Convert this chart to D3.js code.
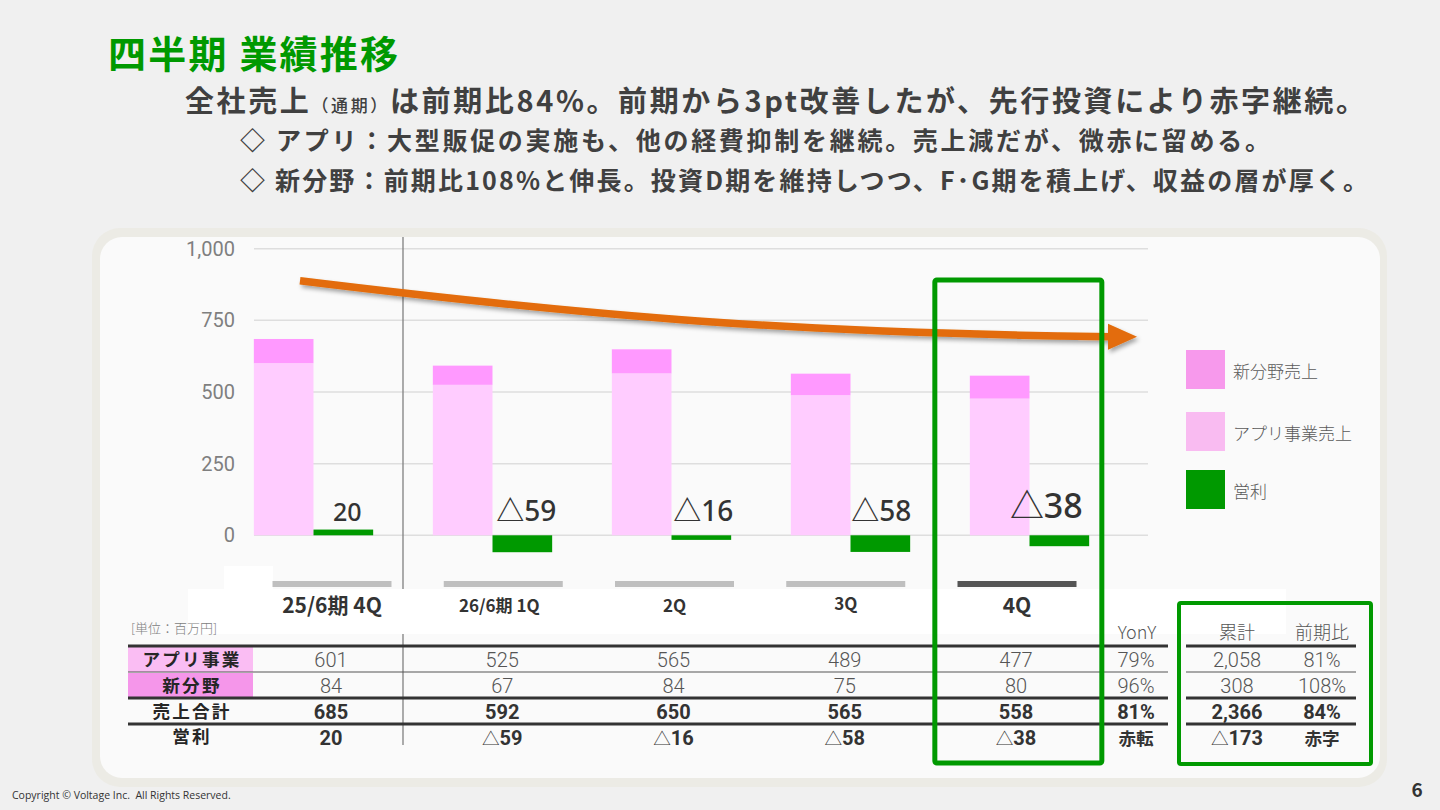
<!DOCTYPE html>
<html><head><meta charset="utf-8">
<script src="https://cdn.jsdelivr.net/npm/d3@7"></script>
<style>
body{margin:0;background:#F0F0F0;}
svg{display:block;font-family:"Noto Sans CJK JP","Noto Sans",sans-serif;}
</style>
</head><body>
<svg id="c" width="1440" height="810"></svg>
<script>
// ---- data ----
const categories = ["25/6期 4Q", "26/6期 1Q", "2Q", "3Q", "4Q"];
const appSales = [601, 525, 565, 489, 477];
const newSales = [84, 67, 84, 75, 80];
const totalSales = [685, 592, 650, 565, 558];
const opProfit = [20, -59, -16, -58, -38];
const yTicks = [0, 250, 500, 750, 1000];
const rowLabels = ["アプリ事業", "新分野", "売上合計", "営利"];
const yonyHeader = "YonY";
const yonyValues = ["79%", "96%", "81%", "赤転"];
const cumHeader = ["累計", "前期比"];
const cumValues = ["2,058", "308", "2,366", "△173"];
const cumRatios = ["81%", "108%", "84%", "赤字"];
const legendLabels = ["新分野売上", "アプリ事業売上", "営利"];
const unitLabel = "[単位：百万円]";

const fmtOp = v => v < 0 ? "△" + Math.abs(v) : String(v);

const svg = d3.select("#c");
const defs = svg.append("defs");
const f = defs.append("filter").attr("id", "shadow").attr("x", "-10%").attr("y", "-50%").attr("width", "120%").attr("height", "200%");
f.append("feDropShadow").attr("dx", 2).attr("dy", 3).attr("stdDeviation", 2).attr("flood-color", "#000").attr("flood-opacity", 0.35);

// ---- header text ----
svg.append("text").attr("x", 108).attr("y", 68).attr("fill", "#009900")
  .attr("font-size", 38).attr("font-weight", 700)
  .attr("textLength", 290).attr("lengthAdjust", "spacing").text("四半期 業績推移");

const l2 = svg.append("text").attr("x", 185).attr("y", 112).attr("fill", "#404040")
  .attr("font-size", 29).attr("font-weight", 700)
  .attr("textLength", 1180).attr("lengthAdjust", "spacing");
l2.append("tspan").text("全社売上");
l2.append("tspan").attr("font-size", 17).attr("font-weight", 500).text("（通期）");
l2.append("tspan").text("は前期比84%。前期から3pt改善したが、先行投資により赤字継続。");

svg.append("text").attr("x", 240).attr("y", 150).attr("fill", "#404040")
  .attr("font-size", 25).attr("font-weight", 700)
  .attr("textLength", 1030).attr("lengthAdjust", "spacing")
  .text("◇ アプリ：大型販促の実施も、他の経費抑制を継続。売上減だが、微赤に留める。");
svg.append("text").attr("x", 240).attr("y", 190).attr("fill", "#404040")
  .attr("font-size", 25).attr("font-weight", 700)
  .attr("textLength", 1128).attr("lengthAdjust", "spacing")
  .text("◇ 新分野：前期比108%と伸長。投資D期を維持しつつ、F･G期を積上げ、収益の層が厚く。");

// ---- panel ----
svg.append("rect").attr("x", 92).attr("y", 228).attr("width", 1295).attr("height", 559)
  .attr("rx", 28).attr("fill", "#ECEBE5");
svg.append("rect").attr("x", 100).attr("y", 237).attr("width", 1280).attr("height", 541)
  .attr("rx", 22).attr("fill", "#FAFAFA");

// ---- scales ----
const y = d3.scaleLinear().domain([0, 1000]).range([535.3, 248.7]);
const x = d3.scaleBand().domain(categories).range([224, 1119]).paddingInner(1 / 3).paddingOuter(1 / 6);
const xs = d3.scaleBand().domain(["sales", "op"]).range([0, x.bandwidth()]);
const tx = d3.scalePoint().domain(categories).range([332, 1017]);

// grid + y axis
const yAxis = d3.axisLeft(y).tickValues(yTicks).tickFormat(d3.format(",")).tickSize(0).tickPadding(0);
const ga = svg.append("g").attr("transform", "translate(235,0)").call(yAxis);
ga.select(".domain").remove();
ga.selectAll("text").attr("font-family", "Roboto, 'Liberation Sans', sans-serif").attr("font-size", 20).attr("fill", "#7F7F7F");
svg.append("g").selectAll("line").data(yTicks).join("line")
  .attr("x1", 254).attr("x2", 1148).attr("y1", d => y(d)).attr("y2", d => y(d))
  .attr("stroke", "#DEDEDE").attr("stroke-width", 1.5);

// bars
const gb = svg.append("g");
gb.selectAll("rect.app").data(categories).join("rect").attr("class", "app")
  .attr("x", d => x(d) + xs("sales")).attr("width", xs.bandwidth())
  .attr("y", (d, i) => y(appSales[i])).attr("height", (d, i) => y(0) - y(appSales[i]))
  .attr("fill", "#FFCCFF");
gb.selectAll("rect.new").data(categories).join("rect").attr("class", "new")
  .attr("x", d => x(d) + xs("sales")).attr("width", xs.bandwidth())
  .attr("y", (d, i) => y(appSales[i] + newSales[i])).attr("height", (d, i) => y(appSales[i]) - y(appSales[i] + newSales[i]))
  .attr("fill", "#FF99FF");
gb.selectAll("rect.op").data(categories).join("rect").attr("class", "op")
  .attr("x", d => x(d) + xs("op")).attr("width", xs.bandwidth())
  .attr("y", (d, i) => y(Math.max(0, opProfit[i]))).attr("height", (d, i) => Math.abs(y(0) - y(opProfit[i])))
  .attr("fill", "#009900");

// op labels
const labSize = [25, 28, 28, 28, 34];
const labDx = [4, 4, 2, 1, -13];
gb.selectAll("text.oplab").data(categories).join("text").attr("class", "oplab")
  .attr("x", (d, i) => x(d) + xs("op") + xs.bandwidth() / 2 + labDx[i])
  .attr("y", (d, i) => y(0) - (i === 4 ? 17 : 14))
  .attr("text-anchor", "middle").attr("fill", "#333333")
  .attr("font-family", "'Noto Sans','Noto Sans CJK JP',sans-serif")
  .attr("font-size", (d, i) => labSize[i]).attr("font-weight", 500)
  .text((d, i) => fmtOp(opProfit[i]));

// separator line
const sepX = x(categories[0]) + x.bandwidth() + (x.step() - x.bandwidth()) / 2;
svg.append("line").attr("x1", sepX).attr("x2", sepX).attr("y1", 237).attr("y2", 745)
  .attr("stroke", "#808080").attr("stroke-width", 1.3);

// trend arrow
const ap = d3.path();
ap.moveTo(300, y(888));
ap.bezierCurveTo(600, y(760), 800, y(705), 1112, y(693));
const ga2 = svg.append("g").attr("filter", "url(#shadow)");
ga2.append("path").attr("d", ap.toString()).attr("fill", "none").attr("stroke", "#E36C09").attr("stroke-width", 7.5);
ga2.append("path").attr("d", `M1108,${y(693) - 13}L1137,${y(693)}L1108,${y(693) + 13}Z`).attr("fill", "#E36C09");

// header white block
svg.append("rect").attr("x", 224).attr("y", 566).attr("width", 49).attr("height", 24).attr("fill", "#FFFFFF");
svg.append("rect").attr("x", 188).attr("y", 589).attr("width", 1098).attr("height", 45).attr("fill", "#FFFFFF");

// gray category ticks
svg.append("g").selectAll("rect").data(categories).join("rect")
  .attr("x", d => tx(d) - 59.5).attr("width", 119).attr("y", 581).attr("height", 6)
  .attr("fill", (d, i) => i === categories.length - 1 ? "#555555" : "#BFBFBF");

// category labels
svg.append("g").selectAll("text").data(categories).join("text")
  .attr("x", (d, i) => tx(d) - (i === 1 ? 4 : 0)).attr("y", (d, i) => i === 3 ? 602 : 604)
  .attr("dominant-baseline", "central").attr("text-anchor", "middle")
  .attr("font-size", (d, i) => (i === 0 || i === 4) ? 21 : 17).attr("font-weight", 700).attr("fill", "#333333")
  .text(d => d);

svg.append("text").attr("x", 131).attr("y", 627).attr("dominant-baseline", "central")
  .attr("font-size", 13).attr("fill", "#808080").attr("font-weight", 300).text(unitLabel);

// ---- table ----
const rowY = [660, 686, 712, 737.5];
const rowWeight = [300, 300, 700, 700];
const tableVals = [appSales.map(String), newSales.map(String), totalSales.map(String), opProfit.map(fmtOp)];

// row label backgrounds
svg.append("rect").attr("x", 128).attr("y", 647).attr("width", 125).attr("height", 25).attr("fill", "#FABDF3");
svg.append("rect").attr("x", 128).attr("y", 673).attr("width", 125).attr("height", 24).attr("fill", "#F596EA");

// lines
const lineDefs = [[646, 3, "#333333"], [672, 1.2, "#555555"], [698, 3, "#333333"], [724, 3, "#333333"]];
lineDefs.forEach(([ly, w, c]) => {
  svg.append("line").attr("x1", 128).attr("x2", 1168).attr("y1", ly).attr("y2", ly).attr("stroke", c).attr("stroke-width", w);
  svg.append("line").attr("x1", 1186).attr("x2", 1356).attr("y1", ly).attr("y2", ly).attr("stroke", c).attr("stroke-width", w);
});

const NUM = /^[0-9,.%]+$/;
function cell(sel, cx, cy, str, weight, color) {
  const t = sel.append("text").attr("x", cx).attr("y", cy + 7).attr("text-anchor", "middle").attr("fill", color);
  (str.match(/[0-9,.%]+|[^0-9,.%]+/g) || []).forEach(r => {
    const num = NUM.test(r);
    t.append("tspan")
      .attr("font-family", num ? "Roboto, 'Liberation Sans', sans-serif" : "'Noto Sans CJK JP', sans-serif")
      .attr("font-size", num ? 20 : 17.6)
      .attr("font-weight", r === "△" ? 300 : weight)
      .text(r);
  });
  return t;
}

const gt = svg.append("g");
gt.selectAll("text.rl").data(rowLabels).join("text").attr("class", "rl")
  .attr("x", 192).attr("y", (d, i) => rowY[i] + 5.5).attr("text-anchor", "middle")
  .attr("letter-spacing", 2.2)
  .attr("font-size", 17.6).attr("font-weight", 700).attr("fill", "#262626").text(d => d);

rowLabels.forEach((r, ri) => {
  const col = ri < 2 ? "#555555" : "#333333";
  categories.forEach((c, i) => cell(gt, tx(c) - 1, rowY[ri], tableVals[ri][i], rowWeight[ri], col));
  cell(gt, 1136, rowY[ri], yonyValues[ri], rowWeight[ri], col);
  cell(gt, 1237, rowY[ri], cumValues[ri], rowWeight[ri], col);
  cell(gt, 1322, rowY[ri], cumRatios[ri], rowWeight[ri], col);
});
gt.append("text").attr("x", 1137).attr("y", 631).attr("dominant-baseline", "central").attr("text-anchor", "middle")
  .attr("font-size", 18).attr("font-weight", 300).attr("fill", "#555555").text(yonyHeader);
gt.selectAll("text.ch").data(cumHeader).join("text").attr("class", "ch")
  .attr("x", (d, i) => i === 0 ? 1237 : 1322).attr("y", 631).attr("dominant-baseline", "central").attr("text-anchor", "middle")
  .attr("font-size", 18).attr("font-weight", 300).attr("fill", "#555555").text(d => d);

// highlight boxes
svg.append("rect").attr("x", x(categories[4]) - 35).attr("y", 280).attr("width", 167).attr("height", 483)
  .attr("rx", 2).attr("fill", "none").attr("stroke", "#009900").attr("stroke-width", 5);
svg.append("rect").attr("x", 1179).attr("y", 603).attr("width", 192).attr("height", 161)
  .attr("rx", 2).attr("fill", "none").attr("stroke", "#009900").attr("stroke-width", 4);

// legend
const legColors = ["#F799EC", "#F9BBF1", "#009900"];
const legY = [350, 412, 470];
const gl = svg.append("g");
gl.selectAll("rect").data(legendLabels).join("rect")
  .attr("x", 1186).attr("y", (d, i) => legY[i]).attr("width", 39).attr("height", 39).attr("fill", (d, i) => legColors[i]);
gl.selectAll("text").data(legendLabels).join("text")
  .attr("x", 1233).attr("y", (d, i) => legY[i] + 20).attr("dominant-baseline", "central")
  .attr("font-size", 17).attr("font-weight", 300).attr("fill", "#595959").text(d => d);

// footer
svg.append("text").attr("x", 12).attr("y", 799).attr("font-family", "'Open Sans','Noto Sans',sans-serif")
  .attr("font-size", 10.5).attr("fill", "#333333").attr("xml:space", "preserve")
  .text("Copyright © Voltage Inc.  All Rights Reserved.");
svg.append("text").attr("x", 1417).attr("y", 797).attr("text-anchor", "middle")
  .attr("font-size", 19).attr("font-weight", 700).attr("fill", "#333333").text("6");
</script>
</body></html>
